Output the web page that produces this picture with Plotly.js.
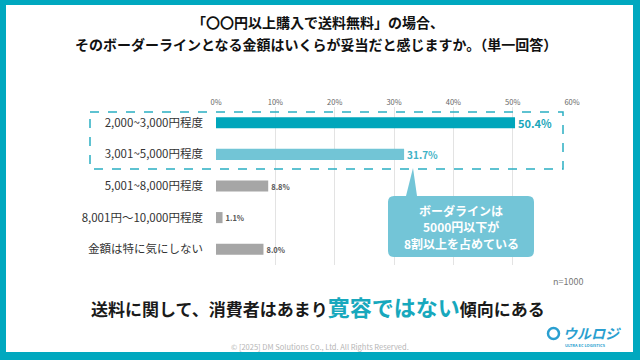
<!DOCTYPE html>
<html>
<head>
<meta charset="utf-8">
<script src="https://cdn.plot.ly/plotly-3.0.1.min.js"></script>
<style>html,body{margin:0;padding:0;background:#fff;}#chart{width:640px;height:360px;}</style>
</head>
<body>
<div id="chart"></div>
<script>
const categories = ['2,000~3,000円程度', '3,001~5,000円程度', '5,001~8,000円程度', '8,001円～10,000円程度', '金額は特に気にしない'];
const values = [50.4, 31.7, 8.8, 1.1, 8.0];
const barColors = ['#00a6bb', '#72c5d6', '#a6a6a6', '#a6a6a6', '#a6a6a6'];
const labelColors = ['#1aa6ba', '#3fb2c6', '#555555', '#555555', '#555555'];
const labelSizes = [11, 10, 7.5, 7.5, 7.5];
const xTicks = [0, 10, 20, 30, 40, 50, 60];
const xTickText = ['0%', '10%', '20%', '30%', '40%', '50%', '60%'];

const FONT = '"Noto Sans CJK JP", "Noto Sans", sans-serif';
const L = 216, R = 572, T = 107, B = 265;
const PX = p => (p - L) / (R - L);
const PY = p => (B - p) / (B - T);

function roundRectPath(x0, y0, x1, y1, r, tail) {
  const M = (x, y) => `${PX(x)},${PY(y)}`;
  let d = `M${M(x0 + r, y0)}`;
  if (tail) {
    d += ` L${M(tail[0], y0)} L${M(tail[2], tail[3])} L${M(tail[1], y0)}`;
  }
  d += ` L${M(x1 - r, y0)} Q${M(x1, y0)} ${M(x1, y0 + r)}`;
  d += ` L${M(x1, y1 - r)} Q${M(x1, y1)} ${M(x1 - r, y1)}`;
  d += ` L${M(x0 + r, y1)} Q${M(x0, y1)} ${M(x0, y1 - r)}`;
  d += ` L${M(x0, y0 + r)} Q${M(x0, y0)} ${M(x0 + r, y0)} Z`;
  return d;
}

const trace = {
  type: 'bar',
  orientation: 'h',
  y: categories,
  x: values,
  width: 0.35,
  marker: { color: barColors },
  texttemplate: '<b>%{x:.1f}%</b>',
  textposition: 'outside',
  constraintext: 'none',
  cliponaxis: false,
  textfont: { color: labelColors, size: labelSizes, family: FONT },
  hoverinfo: 'none'
};

const shapes = [
  { type: 'rect', xref: 'paper', yref: 'paper', layer: 'below',
    x0: PX(6), x1: PX(633), y0: PY(5), y1: PY(352),
    fillcolor: '#ffffff', line: { width: 0 } },
  { type: 'rect', xref: 'paper', yref: 'paper',
    x0: PX(90), x1: PX(563), y0: PY(112), y1: PY(169),
    fillcolor: 'rgba(0,0,0,0)', line: { color: '#2aaec2', width: 1.5, dash: 'dash' } },
  { type: 'path', xref: 'paper', yref: 'paper',
    path: roundRectPath(388, 196, 534, 257, 6, [406, 417, 413, 168]),
    fillcolor: '#73c5d7', line: { width: 0 } },
  { type: 'circle', xref: 'paper', yref: 'paper',
    x0: PX(548), x1: PX(559), y0: PY(328), y1: PY(339),
    fillcolor: 'rgba(0,0,0,0)', line: { color: '#2a9fd0', width: 2.5 } }
];

function ann(text, px, py, size, color, extra) {
  return Object.assign({ text, x: PX(px), y: PY(py), xref: 'paper', yref: 'paper',
    xanchor: 'center', yanchor: 'middle', showarrow: false,
    font: { size, color, family: FONT } }, extra || {});
}

const annotations = [
  ann('<b>「〇〇円以上購入で送料無料」の場合、</b>', 318, 22, 14, '#111'),
  ann('<b>そのボーダーラインとなる金額はいくらが妥当だと感じますか。（単一回答）</b>', 316, 44, 14, '#111'),
  ann('<b>ボーダラインは</b>', 461, 210, 12, '#ffffff'),
  ann('<b>5000円以下が</b>', 461, 226.5, 12, '#ffffff'),
  ann('<b>8割以上を占めている</b>', 461, 243, 12, '#ffffff'),
  ann('n=1000', 585, 281, 9, '#777', { xanchor: 'right' }),
  ann('<b>送料に関して、消費者はあまり<span style="color:#17a8bd;font-size:22px">寛容ではない</span>傾向にある</b>', 318, 306, 17, '#1a1a1a'),
  ann('© [2025] DM Solutions Co., Ltd. All Rights Reserved.', 320, 346, 7.5, '#b5b5b5'),
  ann('<b><i>ウルロジ</i></b>', 561, 333, 14, '#2a9fd0', { xanchor: 'left' }),
  ann('<b>ULTRA EC LOGISTICS</b>', 563, 345, 4, '#2a9fd0', { xanchor: 'left' })
];

const layout = {
  width: 640, height: 360,
  margin: { l: L, r: 640 - R, t: T, b: 360 - B, pad: 0 },
  paper_bgcolor: '#00a8bf',
  plot_bgcolor: 'rgba(0,0,0,0)',
  showlegend: false,
  xaxis: {
    side: 'top', range: [0, 60], tickvals: xTicks, ticktext: xTickText,
    showgrid: true, gridcolor: '#e3e3e3', gridwidth: 1, zeroline: false, showline: false,
    ticks: '', tickfont: { size: 7.5, color: '#666', family: FONT }, fixedrange: true
  },
  yaxis: {
    autorange: 'reversed', type: 'category', ticks: '', showgrid: false, zeroline: false,
    showline: false, ticklabelstandoff: 12,
    tickfont: { size: 11.5, color: '#333', family: FONT }, fixedrange: true
  },
  shapes: shapes,
  annotations: annotations
};

Plotly.newPlot('chart', [trace], layout, { displayModeBar: false, staticPlot: true });
</script>
</body>
</html>
